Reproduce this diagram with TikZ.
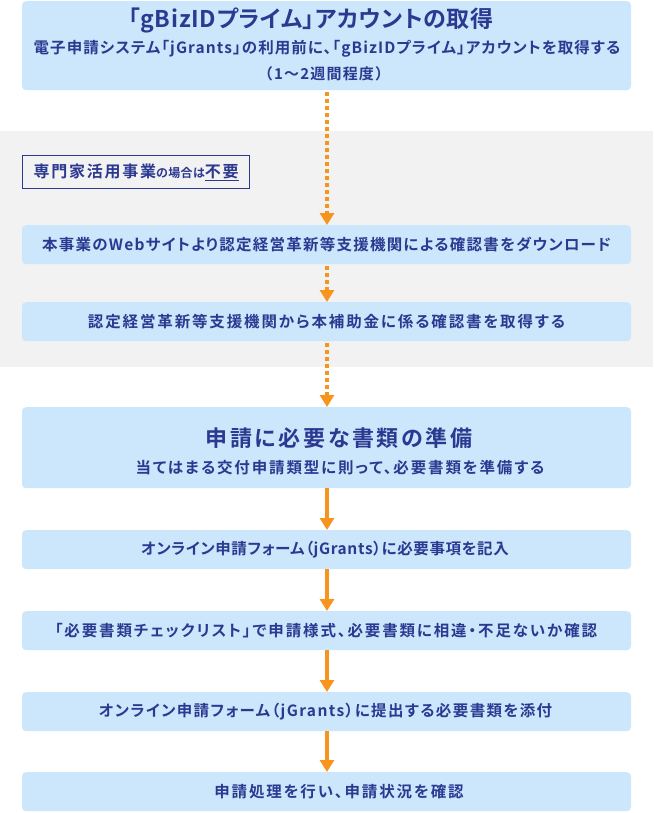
\documentclass[tikz,border=0pt]{standalone}
\usepackage{fontspec}
\usetikzlibrary{arrows.meta}
\newfontfamily\jpb{Noto Sans CJK JP Bold}[RawFeature=+palt, LetterSpace=3]
\newfontfamily\jpbw{Noto Sans CJK JP Bold}[RawFeature=+palt, LetterSpace=7]
\newfontfamily\jps{Noto Sans CJK JP Bold}[RawFeature=+palt, LetterSpace=12]
\newfontfamily\jpsA{Noto Sans CJK JP Bold}[RawFeature=+palt, LetterSpace=8]
\newfontfamily\jpsB{Noto Sans CJK JP Bold}[RawFeature=+palt, LetterSpace=4]
\newfontfamily\jpsC{Noto Sans CJK JP Bold}[RawFeature=+palt, LetterSpace=9]
\newfontfamily\jpl{Noto Sans CJK JP Bold}[LetterSpace=8]
\newfontfamily\jpw{Noto Sans CJK JP Bold}[LetterSpace=11]
\definecolor{boxblue}{HTML}{CCE6FC}
\definecolor{navy}{HTML}{2B3990}
\definecolor{arrorange}{HTML}{F7941D}
\definecolor{bandgray}{HTML}{F2F2F2}
\tikzset{
  stepbox/.style={fill=boxblue, rounded corners=4pt, minimum width=609pt, inner sep=0pt, anchor=north},
  bodytext/.style={text=navy, inner sep=0pt, font=\jps\fontsize{15.5}{18}\selectfont},
  dotarrow/.style={draw=arrorange, line width=3.5pt, dash pattern=on 4pt off 3pt, -{Triangle[width=14pt,length=12pt]}},
  solidarrow/.style={draw=arrorange, line width=4pt, -{Triangle[width=14pt,length=12pt]}},
  txt/.style={text=navy, inner sep=0pt}
}
\begin{document}
\begin{tikzpicture}[x=1pt,y=1pt]
\useasboundingbox (0,0) rectangle (653,-813);
\fill[bandgray] (0,-131) rectangle (653,-367);
% box 1
\node[stepbox, minimum height=89pt] (b1) at (326.5,-1) {};
\node[txt, font=\jpb\fontsize{23}{26}\selectfont] (t1a) at (311,-20) {「gBizIDプライム」アカウントの取得};
\node[txt, font=\jpbw\fontsize{15.5}{18}\selectfont] (t1b) at (327,-49) {電子申請システム「jGrants」の利用前に、「gBizIDプライム」アカウントを取得する};
\node[txt, font=\jpl\fontsize{15}{18}\selectfont] (t1c) at (324,-74) {（1〜2週間程度）};
% label
\node[draw=navy, line width=1.3pt, minimum width=227pt, minimum height=33pt, inner sep=0pt, anchor=north west, text=navy] (lab) at (22,-155) {{\jpw\fontsize{16}{20}\selectfont 専門家活用事業}{\jpb\fontsize{12}{14}\selectfont の場合は}{\jpw\fontsize{16}{20}\selectfont\underline{不要}}};
% box 2,3
\node[stepbox, minimum height=39pt] (b2) at (326.5,-225) {};
\node[bodytext, font=\jpsA\fontsize{15.5}{18}\selectfont] (t2) at (326.5,-245) {本事業のWebサイトより認定経営革新等支援機関による確認書をダウンロード};
\node[stepbox, minimum height=39pt] (b3) at (326.5,-302) {};
\node[bodytext] (t3) at (326.5,-322) {認定経営革新等支援機関から本補助金に係る確認書を取得する};
% box 4
\node[stepbox, minimum height=81pt] (b4) at (326.5,-407) {};
\node[txt, font=\jps\fontsize{22}{26}\selectfont] (t4a) at (339,-438) {申請に必要な書類の準備};
\node[txt, font=\jps\fontsize{15.5}{18}\selectfont] (t4b) at (340,-468) {当てはまる交付申請類型に則って、必要書類を準備する};
% boxes 5-8
\node[stepbox, minimum height=39pt] (b5) at (326.5,-530) {};
\node[bodytext, font=\jpsB\fontsize{15.5}{18}\selectfont] (t5) at (325,-550) {オンライン申請フォーム（jGrants）に必要事項を記入};
\node[stepbox, minimum height=39pt] (b6) at (326.5,-611) {};
\node[bodytext] (t6) at (326,-631) {「必要書類チェックリスト」で申請様式、必要書類に相違・不足ないか確認};
\node[stepbox, minimum height=39pt] (b7) at (326.5,-692) {};
\node[bodytext, font=\jpsC\fontsize{15.5}{18}\selectfont] (t7) at (325.5,-712) {オンライン申請フォーム（jGrants）に提出する必要書類を添付};
\node[stepbox, minimum height=39pt] (b8) at (326.5,-772) {};
\node[bodytext] (t8) at (339,-792) {申請処理を行い、申請状況を確認};
% arrows
\draw[dotarrow] ([xshift=0.5pt,yshift=-2pt]b1.south) -- ([xshift=0.5pt]b2.north);
\draw[dotarrow] ([xshift=0.5pt,yshift=-2pt]b2.south) -- ([xshift=0.5pt]b3.north);
\draw[dotarrow] ([xshift=0.5pt,yshift=-2pt]b3.south) -- ([xshift=0.5pt]b4.north);
\draw[solidarrow] ([xshift=0.5pt]b4.south) -- ([xshift=0.5pt]b5.north);
\draw[solidarrow] ([xshift=0.5pt]b5.south) -- ([xshift=0.5pt]b6.north);
\draw[solidarrow] ([xshift=0.5pt]b6.south) -- ([xshift=0.5pt]b7.north);
\draw[solidarrow] ([xshift=0.5pt]b7.south) -- ([xshift=0.5pt]b8.north);
\end{tikzpicture}
\end{document}
